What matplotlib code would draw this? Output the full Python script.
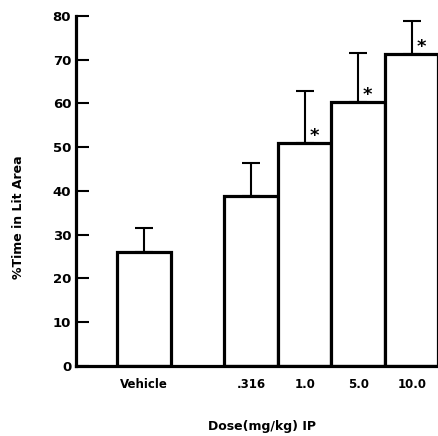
import matplotlib

matplotlib.use("Agg")
import matplotlib.pyplot as plt  # noqa: E402
import numpy as np  # noqa: E402

# data (% time in lit area, mean and upper SEM)
groups = ["Vehicle", ".316", "1.0", "5.0", "10.0"]
positions = [0, 2, 3, 4, 5]
means = [26.0, 38.8, 50.9, 60.3, 71.2]
sems = [5.4, 7.6, 11.9, 11.3, 7.7]
significant = [False, False, True, True, True]

plt.rcParams["font.family"] = ["DejaVu Sans"]
plt.rcParams["font.weight"] = "bold"

fig = plt.figure(figsize=(4.39, 4.36), dpi=100)
W, H = 439, 436
ax = fig.add_axes([76 / W, 1 - 365.7 / H, 362.5 / W, 349.7 / H])

ax.errorbar(positions, means, yerr=[np.zeros(len(sems)), sems], fmt="none",
            ecolor="black", elinewidth=1.5, capsize=6.5, capthick=1.5,
            zorder=0.5)
ax.bar(positions, means, width=1.0, color="white", edgecolor="black",
       linewidth=2.3, zorder=1)

for x, m, s in zip(positions, means, significant):
    if s:
        ax.text(x + 0.18, m + 1.7, "*", ha="center", va="center",
                fontsize=13, fontweight="heavy")

ax.set_xlim(-1.27, 5.5)
ax.set_ylim(0, 80)
ax.set_yticks(range(0, 81, 10))
ax.set_xticks(positions)
ax.set_xticklabels(groups)

for side in ("top", "right"):
    ax.spines[side].set_visible(False)
for side in ("left", "bottom"):
    ax.spines[side].set_linewidth(2.3)

ax.tick_params(axis="y", direction="in", length=9, width=1.5, pad=3.5,
               labelsize=9.5)
ax.tick_params(axis="x", length=0, pad=9, labelsize=8.5)

ax.set_ylabel("%Time in Lit Area", fontsize=9, fontweight="bold")
ax.yaxis.set_label_coords(-0.142, 0.424)
ax.set_xlabel("Dose(mg/kg) IP", fontsize=9, fontweight="bold")
ax.xaxis.set_label_coords(0.512, -0.155)

fig.savefig("out.png", dpi=100)
